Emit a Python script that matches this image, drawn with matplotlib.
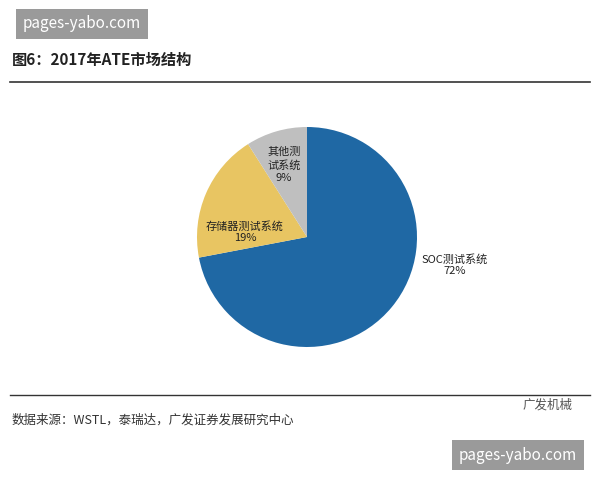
import matplotlib.pyplot as plt

plt.rcParams['font.family'] = ['Noto Sans CJK SC', 'DejaVu Sans']

labels = ['SOC测试系统\n72%', '存储器测试系统\n19%', '其他测\n试系统\n9%']
values = [72, 19, 9]
colors = ['#1f68a4', '#e8c562', '#bfbfbf']

W, H = 600, 480
fig = plt.figure(figsize=(6, 4.8), dpi=100)

def fx(x): return x / W
def fy(y): return 1 - y / H

# pie axes: center (307, 237), radius ~110 px
r = 110
ax = fig.add_axes([fx(307 - r), fy(237 + r), 2 * r / W, 2 * r / H])
ax.pie(values, colors=colors, startangle=90, counterclock=False,
       wedgeprops=dict(linewidth=0))
ax.set_xlim(-1, 1)
ax.set_ylim(-1, 1)
ax.set_aspect('equal')

fig.text(fx(12), fy(60), '图6：2017年ATE市场结构', fontsize=11, fontweight='bold',
         va='center', ha='left', color='#222222')
fig.add_artist(plt.Line2D([fx(10), fx(590)], [fy(82), fy(82)], color='#333333', lw=1.2))
fig.add_artist(plt.Line2D([fx(10), fx(590)], [fy(395), fy(395)], color='#333333', lw=1.0))

fig.text(fx(455), fy(265), labels[0], fontsize=8, ha='center', va='center', color='#222222')
fig.text(fx(245), fy(232), labels[1], fontsize=8, ha='center', va='center', color='#222222')
fig.text(fx(284), fy(165), labels[2], fontsize=8, ha='center', va='center', color='#222222',
         linespacing=1.3)

fig.text(fx(12), fy(420), '数据来源：WSTL，泰瑞达，广发证券发展研究中心', fontsize=9,
         ha='left', va='center', color='#333333')

# watermarks
fig.text(fx(82), fy(24), 'pages-yabo.com', fontsize=11, ha='center', va='center',
         color='white', bbox=dict(boxstyle='square,pad=0.45', fc='#9a9a9a', ec='none'))
fig.text(fx(518), fy(455), 'pages-yabo.com', fontsize=11, ha='center', va='center',
         color='white', bbox=dict(boxstyle='square,pad=0.45', fc='#9a9a9a', ec='none'))
fig.text(fx(548), fy(405), '广发机械', fontsize=9, ha='center', va='center', color='#555555')

fig.savefig('out.png', dpi=100, facecolor='white')
